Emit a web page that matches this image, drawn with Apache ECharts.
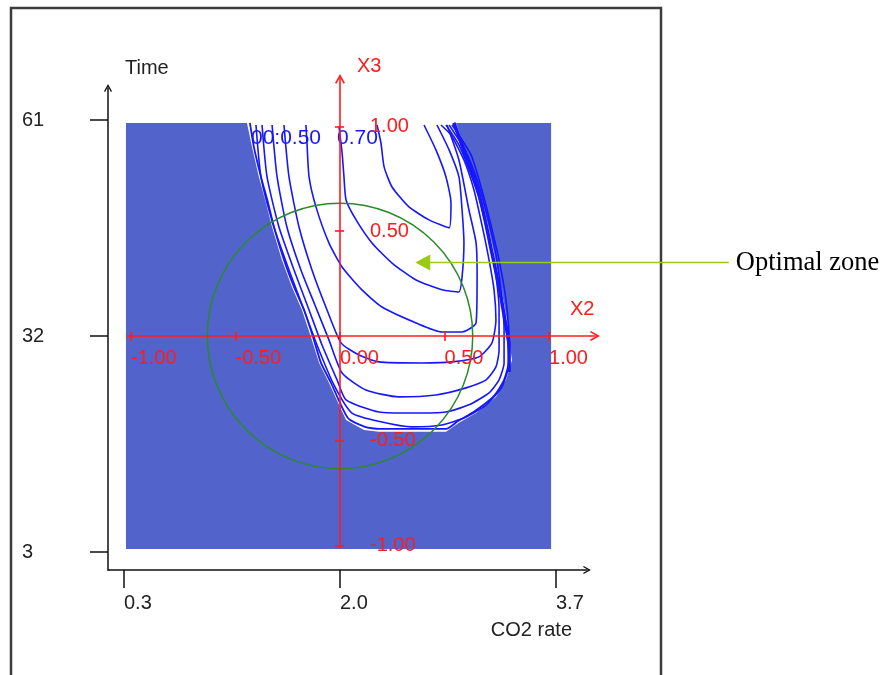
<!DOCTYPE html>
<html><head><meta charset="utf-8">
<script src="https://cdn.jsdelivr.net/npm/echarts@6/dist/echarts.min.js"></script>
<style>html,body{margin:0;padding:0;background:#fff}#c{width:889px;height:675px}</style>
</head><body><div id="c"></div>
<script>
// ---- tick labels ----
const co2Ticks = [0.3, 2.0, 3.7];
const timeTicks = [3, 32, 61];
const x2Ticks = [-1, -0.5, 0, 0.5, 1];
const x3Ticks = [-1, -0.5, 0.5, 1];

// ---- regions in coded units (X2, X3) ----
const designRegion = [[-1.024, 1.017, 1.010, -1.017]]; // x2min, x3max, x2max, x3min
const whiteRegion = [[-0.445,1.017],[-0.421,0.902],[-0.388,0.759],[-0.354,0.635],[-0.325,0.520],[-0.278,0.363],[-0.230,0.234],[-0.182,0.124],[-0.139,-0.005],[-0.100,-0.129],[-0.053,-0.224],[0.029,-0.401],[0.115,-0.449],[0.187,-0.458],[0.507,-0.458],[0.569,-0.415],[0.651,-0.368],[0.746,-0.291],[0.794,-0.210],[0.823,-0.115],[0.818,-0.081],[0.799,0.076],[0.770,0.234],[0.737,0.396],[0.703,0.554],[0.665,0.711],[0.603,0.874],[0.555,1.017]];

// ---- contour lines (X2, X3) ----
const contourA = [[0.177,1.007],[0.196,0.921],[0.211,0.807],[0.249,0.711],[0.330,0.616],[0.426,0.554],[0.522,0.516],[0.531,0.635],[0.507,0.759],[0.459,0.888],[0.402,1.007]];
const contourB = [[-0.005,1.0],[0.010,0.874],[0.019,0.759],[0.029,0.649],[0.077,0.554],[0.153,0.444],[0.249,0.348],[0.364,0.267],[0.488,0.220],[0.569,0.210],[0.584,0.282],[0.593,0.444],[0.584,0.601],[0.569,0.759],[0.522,0.888],[0.464,1.007]];
const contourC = [[-0.163,1.007],[-0.158,0.921],[-0.148,0.759],[-0.115,0.616],[-0.053,0.444],[0.010,0.329],[0.105,0.220],[0.201,0.138],[0.364,0.062],[0.488,0.019],[0.584,0.019],[0.651,0.062],[0.656,0.282],[0.651,0.444],[0.617,0.601],[0.569,0.840],[0.512,1.007]];
const contourD = [[-0.268,1.007],[-0.244,0.759],[-0.196,0.520],[-0.134,0.315],[-0.062,0.124],[0.005,-0.033],[0.091,-0.091],[0.187,-0.124],[0.392,-0.129],[0.536,-0.124],[0.665,-0.100],[0.727,-0.033],[0.746,0.076],[0.737,0.220],[0.713,0.363],[0.679,0.530],[0.641,0.697],[0.593,0.840],[0.531,0.959],[0.483,1.007]];
const contourE = [[-0.325,1.007],[-0.301,0.759],[-0.254,0.520],[-0.187,0.315],[-0.120,0.148],[-0.053,-0.019],[0.010,-0.177],[0.124,-0.258],[0.282,-0.291],[0.459,-0.282],[0.603,-0.248],[0.699,-0.210],[0.746,-0.148],[0.761,-0.067],[0.761,0.124],[0.742,0.315],[0.713,0.458],[0.675,0.625],[0.627,0.768],[0.569,0.912],[0.507,1.007]];
const contourF = [[-0.373,1.007],[-0.349,0.759],[-0.292,0.520],[-0.220,0.315],[-0.148,0.124],[-0.086,-0.043],[-0.014,-0.210],[0.029,-0.305],[0.187,-0.363],[0.344,-0.368],[0.507,-0.363],[0.617,-0.329],[0.713,-0.272],[0.761,-0.210],[0.785,-0.129],[0.785,0.029],[0.770,0.220],[0.742,0.411],[0.703,0.578],[0.656,0.745],[0.598,0.888],[0.522,1.007]];
const contourG = [[-0.402,1.007],[-0.378,0.759],[-0.316,0.520],[-0.244,0.315],[-0.172,0.124],[-0.110,-0.043],[-0.029,-0.234],[0.057,-0.368],[0.201,-0.411],[0.344,-0.434],[0.488,-0.425],[0.603,-0.387],[0.699,-0.329],[0.775,-0.243],[0.809,-0.129],[0.809,-0.019],[0.794,0.172],[0.761,0.363],[0.722,0.530],[0.679,0.697],[0.627,0.864],[0.536,1.007]];
const contourEdge = [[-0.431,1.017],[-0.412,0.902],[-0.378,0.759],[-0.344,0.635],[-0.316,0.520],[-0.268,0.363],[-0.220,0.234],[-0.172,0.124],[-0.129,-0.005],[-0.091,-0.129],[-0.043,-0.224],[0.038,-0.392],[0.120,-0.434],[0.187,-0.444],[0.507,-0.444],[0.565,-0.406],[0.646,-0.358],[0.737,-0.286],[0.785,-0.210],[0.809,-0.115],[0.790,0.076],[0.761,0.234],[0.727,0.396],[0.694,0.554],[0.656,0.711],[0.593,0.874],[0.545,1.017]];
const contourRightBand = [[0.545,1.017],[0.593,0.888],[0.656,0.711],[0.694,0.554],[0.727,0.396],[0.761,0.234],[0.789,0.076],[0.809,-0.043],[0.809,-0.172]];

const contourLabelText = ['00:0.50', '0.70'];
const contourLabelPos = [[-0.426, 0.945], [-0.014, 0.945]];

// optimal circle: centre X2, centre X3, radius
const optimalCircle = [[0, 0, 0.635]];
// annotation arrow: tip X2, tip X3, tail X2
const optimalZone = [[0.36, 0.35, 1.86]];
const annotationText = 'Optimal zone';

const FONT = '"Liberation Sans", Arial, sans-serif';
const RED = '#ff1c1c';
const BLUE_BG = '#5264cc';
const LINE_BLUE = '#1616ff';
const GREEN = '#2a8a2a';
const LIME = '#9acb14';
const chevron = 'path://M5,0L10,9L8.6,9.8L5,3.4L1.4,9.8L0,9Z';

// red (coded) grid geometry
const G1 = {left: 126.8, top: 78.9, width: 468.2, height: 468.6};
const X2MIN = -1.02, X2MAX = 1.22, X3MIN = -1.01, X3MAX = 1.227;
// shift the coded axes from the grid edge onto the zero lines
const x2Offset = -((0 - X3MIN) / (X3MAX - X3MIN)) * G1.height;
const x3Offset = -((0 - X2MIN) / (X2MAX - X2MIN)) * G1.width;

const chart = echarts.init(document.getElementById('c'), null, {renderer: 'canvas'});

function contourSeries(data, width) {
  return {type: 'line', xAxisIndex: 1, yAxisIndex: 1, data: data, showSymbol: false, symbol: 'none',
    smooth: 0.2, z: 3, lineStyle: {color: LINE_BLUE, width: width || 1.6}, silent: true};
}

const option = {
  animation: false,
  textStyle: {fontFamily: FONT},
  graphic: [{type: 'rect', silent: true, shape: {x: 11, y: 8, width: 650, height: 720},
    style: {fill: null, stroke: '#3c3c3c', lineWidth: 2.5}}],
  grid: [
    {left: 108, top: 88, width: 479, height: 482},
    G1
  ],
  xAxis: [
    {gridIndex: 0, type: 'value', min: 0.1741, max: 3.944,
      name: 'CO2 rate', nameLocation: 'end', nameGap: -15,
      nameTextStyle: {align: 'right', verticalAlign: 'top', padding: [50, 0, 0, 0], fontSize: 20, color: '#222', fontFamily: FONT},
      axisLine: {onZero: false, lineStyle: {color: '#111', width: 1.5}, symbol: ['none', chevron], symbolSize: [8, 9]},
      axisTick: {customValues: co2Ticks, length: 18, lineStyle: {color: '#111', width: 1.5}},
      axisLabel: {customValues: co2Ticks, formatter: v => v.toFixed(1), align: 'left', margin: 23, fontSize: 20, color: '#222', fontFamily: FONT},
      splitLine: {show: false}},
    {gridIndex: 1, type: 'value', min: X2MIN, max: X2MAX, z: 10, position: 'bottom', offset: x2Offset,
      name: 'X2', nameLocation: 'end', nameGap: -25,
      nameTextStyle: {align: 'left', verticalAlign: 'bottom', padding: [0, 0, 16, 0], fontSize: 20, color: RED, fontFamily: FONT},
      axisLine: {onZero: false, lineStyle: {color: RED, width: 1.6}, symbol: ['none', chevron], symbolSize: [10, 10]},
      axisTick: {customValues: x2Ticks, length: 5, lineStyle: {color: RED, width: 1.6}},
      axisLabel: {customValues: x2Ticks, formatter: v => v.toFixed(2), align: 'left', margin: 13, fontSize: 20, color: RED, fontFamily: FONT},
      splitLine: {show: false}},
    {gridIndex: 1, type: 'value', min: X2MIN, max: X2MAX, z: 10, position: 'bottom', offset: x2Offset,
      axisLine: {show: false},
      axisTick: {customValues: x2Ticks, inside: true, length: 4, lineStyle: {color: RED, width: 1.6}},
      axisLabel: {show: false}, splitLine: {show: false}}
  ],
  yAxis: [
    {gridIndex: 0, type: 'value', min: 0.583, max: 65.30,
      name: 'Time', nameLocation: 'end', nameGap: 10,
      nameTextStyle: {align: 'left', verticalAlign: 'bottom', padding: [0, 0, 0, 17], fontSize: 20, color: '#222', fontFamily: FONT},
      axisLine: {onZero: false, lineStyle: {color: '#111', width: 1.5}, symbol: ['none', chevron], symbolSize: [8, 9]},
      axisTick: {customValues: timeTicks, length: 18, lineStyle: {color: '#111', width: 1.5}},
      axisLabel: {customValues: timeTicks, formatter: v => String(v), align: 'left', margin: 86, fontSize: 20, color: '#222', fontFamily: FONT, padding: [4, 0, 0, 0]},
      splitLine: {show: false}},
    {gridIndex: 1, type: 'value', min: X3MIN, max: X3MAX, z: 10, position: 'left', offset: x3Offset,
      name: 'X3', nameLocation: 'end', nameGap: 2,
      nameTextStyle: {align: 'left', verticalAlign: 'bottom', padding: [0, 0, 0, 17], fontSize: 20, color: RED, fontFamily: FONT},
      axisLine: {onZero: false, lineStyle: {color: RED, width: 1.6}, symbol: ['none', chevron], symbolSize: [10, 10]},
      axisTick: {customValues: x3Ticks, length: 5, lineStyle: {color: RED, width: 1.6}},
      axisLabel: {customValues: x3Ticks, formatter: v => v.toFixed(2), inside: true, align: 'left', margin: 30, fontSize: 20, color: RED, fontFamily: FONT, padding: [4, 0, 0, 0]},
      splitLine: {show: false}},
    {gridIndex: 1, type: 'value', min: X3MIN, max: X3MAX, z: 10, position: 'left', offset: x3Offset,
      axisLine: {show: false},
      axisTick: {customValues: x3Ticks, inside: true, length: 4, lineStyle: {color: RED, width: 1.6}},
      axisLabel: {show: false}, splitLine: {show: false}}
  ],
  series: [
    {type: 'custom', xAxisIndex: 1, yAxisIndex: 1, z: 1, silent: true, data: designRegion,
      renderItem: (params, api) => {
        const p0 = api.coord([api.value(0), api.value(1)]);
        const p1 = api.coord([api.value(2), api.value(3)]);
        return {type: 'rect', shape: {x: p0[0], y: p0[1], width: p1[0] - p0[0], height: p1[1] - p0[1]}, style: {fill: BLUE_BG}};
      }},
    {type: 'custom', xAxisIndex: 1, yAxisIndex: 1, z: 2, silent: true, data: whiteRegion,
      renderItem: (params, api) => {
        if (params.dataIndex !== 0) return null;
        const pts = whiteRegion.map(p => api.coord(p));
        return {type: 'polygon', shape: {points: pts}, style: {fill: '#ffffff'}};
      }},
    contourSeries(contourEdge, 1.8),
    contourSeries(contourRightBand, 3.5),
    contourSeries(contourG),
    contourSeries(contourF),
    contourSeries(contourE),
    contourSeries(contourD),
    contourSeries(contourC),
    contourSeries(contourB),
    contourSeries(contourA),
    {type: 'custom', xAxisIndex: 1, yAxisIndex: 1, z: 4, silent: true, data: optimalCircle,
      renderItem: (params, api) => {
        const c = api.coord([api.value(0), api.value(1)]);
        const r = api.size([api.value(2), 0])[0];
        return {type: 'circle', shape: {cx: c[0], cy: c[1], r: r}, style: {fill: null, stroke: GREEN, lineWidth: 1.5}};
      }},
    {type: 'custom', xAxisIndex: 1, yAxisIndex: 1, z: 5, silent: true, data: contourLabelPos,
      renderItem: (params, api) => {
        const p = api.coord([api.value(0), api.value(1)]);
        return {type: 'text', x: p[0], y: p[1], style: {text: contourLabelText[params.dataIndex], fill: LINE_BLUE,
          font: '21px "Liberation Sans", Arial, sans-serif', align: 'left', verticalAlign: 'middle'}};
      }},
    {type: 'custom', xAxisIndex: 1, yAxisIndex: 1, z: 6, silent: true, data: optimalZone,
      renderItem: (params, api) => {
        const tip = api.coord([api.value(0), api.value(1)]);
        const tail = api.coord([api.value(2), api.value(1)]);
        return {type: 'group', children: [
          {type: 'line', shape: {x1: tip[0] + 12, y1: tip[1], x2: tail[0], y2: tail[1]}, style: {stroke: LIME, lineWidth: 1.5}},
          {type: 'polygon', shape: {points: [[tip[0], tip[1]], [tip[0] + 15, tip[1] - 8], [tip[0] + 15, tip[1] + 8]]}, style: {fill: LIME}},
          {type: 'text', x: tail[0] + 7, y: tail[1], style: {text: annotationText, fill: '#000',
            font: '26.5px "Liberation Serif", "Times New Roman", serif', align: 'left', verticalAlign: 'middle'}}
        ]};
      }}
  ]
};
chart.setOption(option);
</script></body></html>
